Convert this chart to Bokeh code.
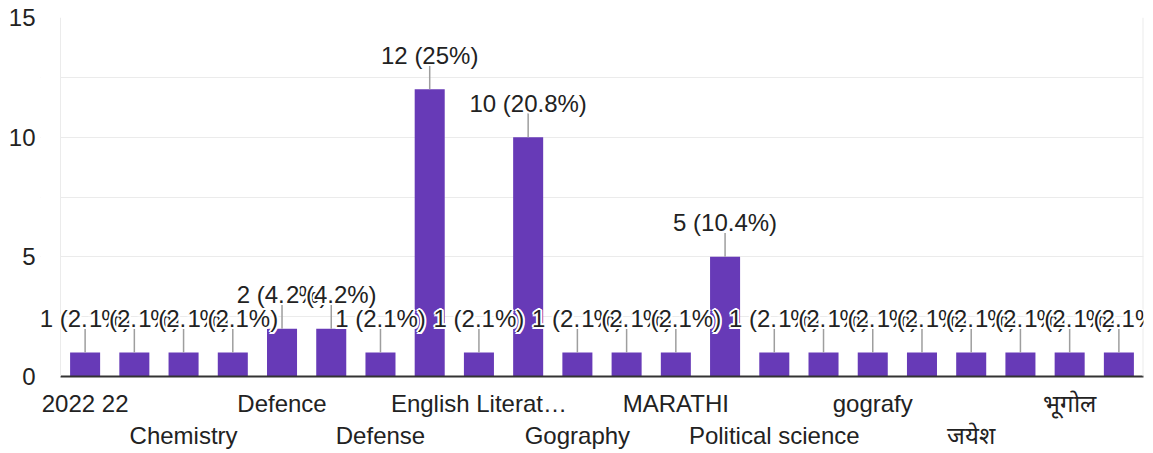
from bokeh.plotting import figure
from bokeh.models import (ColumnDataSource, LinearAxis, FixedTicker, SingleIntervalTicker,
                          Range1d, Label, BoxAnnotation, Span)
from bokeh.embed import file_html
from bokeh.resources import INLINE

# ---- data ----
categories = ["2022 22", "Biology", "Chemistry", "Commerce", "Defence", "Defence studies",
              "Defense", "English", "English Literature", "Geography", "Gography", "History",
              "MARATHI", "Marathi", "Political science", "Science", "gografy", "history",
              "जयेश", "बी.ए.", "भूगोल", "मराठी"]
counts = [1, 1, 1, 1, 2, 2, 1, 12, 1, 10, 1, 1, 1, 5, 1, 1, 1, 1, 1, 1, 1, 1]
truncated = {"English Literature": "English Literat…"}
y_ticks = [0, 5, 10, 15]

FONT = "Liberation Sans"
TEXT = "#222222"
PURPLE = "#673ab7"
GRID = "#ebebeb"
FS = "24px"

W, H = 1145, 453
BORDER_L, BORDER_R, BORDER_T, BORDER_B = 40, 2, 17, 77
SPILL = 20  # px of room left of the chart area so the first value label is not cut
LABEL_LIFT = 10  # px between the leader line top and the value label

n = len(categories)
total = sum(counts)
idx = list(range(n))


def fmt(v):
    s = f"{100.0 * v / total:.1f}"
    if s.endswith(".0"):
        s = s[:-2]
    return f"{v} ({s}%)"


labels = [fmt(v) for v in counts]
src = ColumnDataSource(dict(x=idx, top=counts, lead=[v + 1.0 for v in counts]))

frame_w = W - BORDER_L - BORDER_R
pad = SPILL * n / (frame_w - SPILL)

p = figure(x_range=Range1d(-0.5 - pad, n - 0.5), y_range=Range1d(0, y_ticks[-1]),
           width=W, height=H, output_backend="svg", toolbar_location=None,
           x_axis_location=None, min_border_left=BORDER_L, min_border_right=BORDER_R,
           min_border_top=BORDER_T, min_border_bottom=BORDER_B)
p.background_fill_color = "white"
p.border_fill_color = "white"
p.outline_line_color = None

# y axis
ticker = SingleIntervalTicker(interval=5, num_minor_ticks=2)
p.yaxis.ticker = ticker
p.yaxis.axis_line_color = None
p.yaxis.major_tick_line_color = None
p.yaxis.minor_tick_line_color = None
p.yaxis.major_tick_out = 0
p.yaxis.minor_tick_out = 0
p.yaxis.major_label_standoff = 5
p.yaxis.major_label_text_font = FONT
p.yaxis.major_label_text_font_size = FS
p.yaxis.major_label_text_color = TEXT
p.ygrid.ticker = ticker
p.ygrid.grid_line_color = GRID
p.ygrid.minor_grid_line_color = GRID
p.xgrid.grid_line_color = None

# blank strip left of the chart area (grid lines start at the chart border)
p.add_layout(BoxAnnotation(right=-0.5, fill_color="white", fill_alpha=1.0,
                           line_color=None, level="underlay"))
# chart border, left and right
p.add_layout(Span(location=-0.5, dimension="height", line_color=GRID, line_width=1))
p.add_layout(Span(location=n - 0.5, dimension="height", line_color=GRID, line_width=2))

# two staggered x axes (every second category labelled, alternating rows)
row1 = [i for i in idx if i % 4 == 0]
row2 = [i for i in idx if i % 4 == 2]
ax1 = LinearAxis(ticker=FixedTicker(ticks=row1), bounds=(-0.5, n - 0.5),
                 major_label_overrides={i: truncated.get(categories[i], categories[i]) for i in row1})
ax2 = LinearAxis(ticker=FixedTicker(ticks=row2),
                 major_label_overrides={i: truncated.get(categories[i], categories[i]) for i in row2})
for ax in (ax1, ax2):
    ax.major_tick_line_color = None
    ax.minor_tick_line_color = None
    ax.major_tick_out = 0
    ax.minor_tick_out = 0
    ax.major_label_text_font = FONT
    ax.major_label_text_font_size = FS
    ax.major_label_text_color = TEXT
ax1.axis_line_color = "#333333"
ax1.axis_line_width = 2
ax1.major_label_standoff = 13
ax2.axis_line_color = None
ax2.major_label_standoff = 2
p.add_layout(ax1, "below")
p.add_layout(ax2, "below")

# bars
p.vbar(x="x", top="top", width=0.61, bottom=0, source=src,
       fill_color=PURPLE, line_color=None)

# leader lines
p.segment(x0="x", y0="top", x1="x", y1="lead", source=src,
          line_color="#9e9e9e", line_width=1.5)

# value labels with a white halo, drawn one after the other
halo = [(-2, 0), (2, 0), (0, -2), (0, 2), (-1.5, -1.5), (1.5, -1.5), (-1.5, 1.5), (1.5, 1.5)]
for i in idx:
    for (dx, dy), col in [(h, "white") for h in halo] + [((0, 0), TEXT)]:
        p.add_layout(Label(x=i, y=counts[i] + 1.0, text=labels[i],
                           x_offset=dx, y_offset=dy + LABEL_LIFT,
                           text_color=col, text_align="center", text_baseline="alphabetic",
                           text_font=FONT, text_font_size=FS))

open("out.html", "w").write(file_html(p, INLINE))
